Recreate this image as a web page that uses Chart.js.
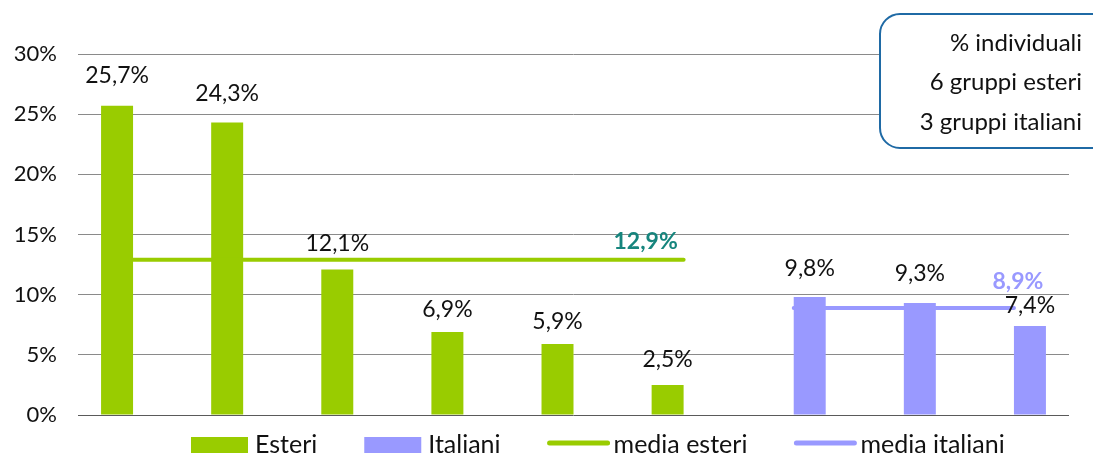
<!DOCTYPE html>
<html>
<head>
<meta charset="utf-8">
<script src="https://cdn.jsdelivr.net/npm/chart.js@4.4.1/dist/chart.umd.min.js"></script>
<style>
  html, body { margin: 0; padding: 0; background: #ffffff; }
  #wrap { width: 1093px; height: 456px; }
</style>
</head>
<body>
<div id="wrap"><canvas id="c" width="1093" height="456"></canvas></div>
<script>
// ---- data ----
const categories = ['G1', 'G2', 'G3', 'G4', 'G5', 'G6', 'I1', 'I2', 'I3'];
const esteri = [25.7, 24.3, 12.1, 6.9, 5.9, 2.5, null, null, null];
const italiani = [null, null, null, null, null, null, 9.8, 9.3, 7.4];
const mediaEsteri = [12.9, 12.9, 12.9, 12.9, 12.9, 12.9, null, null, null];
const mediaItaliani = [null, null, null, null, null, null, 8.9, 8.9, 8.9];
const yTicks = [0, 5, 10, 15, 20, 25, 30];
const seriesNames = ['Esteri', 'Italiani', 'media esteri', 'media italiani'];
const noteLines = ['% individuali', '6 gruppi esteri', '3 gruppi italiani'];

// ---- style ----
const GREEN = '#99cc00';
const PURPLE = '#9999ff';
const FONT = 'Lato, "Open Sans", sans-serif';
// vertical lift of each bar label above its bar top (px)
const barLabelLift = [30, 29, 26, 22, 22, 25, 28, 30, 20];

const fmt = v => v.toFixed(1).replace('.', ',') + '%';

const labelPlugin = {
  id: 'labels',
  afterDatasetsDraw(chart) {
    const ctx = chart.ctx;
    ctx.save();
    ctx.textAlign = 'center';
    ctx.textBaseline = 'middle';
    [0, 1].forEach(di => {
      const meta = chart.getDatasetMeta(di);
      const ds = chart.data.datasets[di];
      meta.data.forEach((el, i) => {
        const v = ds.data[i];
        if (v == null) return;
        ctx.font = '23px ' + FONT;
        ctx.fillStyle = '#111111';
        ctx.fillText(fmt(v), el.x, el.y - barLabelLift[i]);
      });
    });
    const lineLabel = [
      { di: 2, color: '#16857d', dx: -38, dy: -18 },
      { di: 3, color: PURPLE, dx: 4, dy: -26 }
    ];
    lineLabel.forEach(o => {
      const ds = chart.data.datasets[o.di];
      const meta = chart.getDatasetMeta(o.di);
      let last = -1;
      ds.data.forEach((v, i) => { if (v != null) last = i; });
      const el = meta.data[last];
      ctx.font = 'bold 23px ' + FONT;
      ctx.fillStyle = o.color;
      ctx.fillText(fmt(ds.data[last]), el.x + o.dx, el.y + o.dy);
    });
    ctx.restore();
  },
  afterDraw(chart) {
    const ctx = chart.ctx;
    ctx.save();
    const bx = 880, by = 14, bw = 240, bh = 134, r = 20;
    ctx.beginPath();
    ctx.moveTo(bx + r, by);
    ctx.lineTo(bx + bw - r, by);
    ctx.arcTo(bx + bw, by, bx + bw, by + r, r);
    ctx.lineTo(bx + bw, by + bh - r);
    ctx.arcTo(bx + bw, by + bh, bx + bw - r, by + bh, r);
    ctx.lineTo(bx + r, by + bh);
    ctx.arcTo(bx, by + bh, bx, by + bh - r, r);
    ctx.lineTo(bx, by + r);
    ctx.arcTo(bx, by, bx + r, by, r);
    ctx.closePath();
    ctx.fillStyle = '#ffffff';
    ctx.fill();
    ctx.lineWidth = 2;
    ctx.strokeStyle = '#1f6aa5';
    ctx.stroke();
    ctx.font = '24px ' + FONT;
    ctx.fillStyle = '#111111';
    ctx.textAlign = 'right';
    ctx.textBaseline = 'middle';
    noteLines.forEach((t, i) => ctx.fillText(t, 1082, 43 + i * 39.5));

    // legend
    const ds = chart.data.datasets;
    let x = 191;
    const cy = 445;
    ctx.font = '25px ' + FONT;
    ctx.textAlign = 'left';
    ds.forEach((d) => {
      if (d.type === 'line') {
        ctx.strokeStyle = d.borderColor;
        ctx.lineWidth = 5;
        ctx.lineCap = 'round';
        ctx.beginPath();
        ctx.moveTo(x + 2, cy - 2);
        ctx.lineTo(x + 60, cy - 2);
        ctx.stroke();
        x += 66;
      } else {
        ctx.fillStyle = d.backgroundColor;
        ctx.fillRect(x, cy - 8, 57, 16);
        x += 64;
      }
      ctx.fillStyle = '#111111';
      ctx.fillText(d.label, x, cy);
      x += ctx.measureText(d.label).width + 47;
    });
    ctx.restore();
  }
};

new Chart(document.getElementById('c'), {
  data: {
    labels: categories,
    datasets: [
      { type: 'bar', label: seriesNames[0], data: esteri, backgroundColor: GREEN, order: 2 },
      { type: 'bar', label: seriesNames[1], data: italiani, backgroundColor: PURPLE, order: 2 },
      { type: 'line', label: seriesNames[2], data: mediaEsteri, borderColor: GREEN, backgroundColor: GREEN,
        borderWidth: 4, pointRadius: 0, borderCapStyle: 'round', order: 1 },
      { type: 'line', label: seriesNames[3], data: mediaItaliani, borderColor: PURPLE, backgroundColor: PURPLE,
        borderWidth: 4, pointRadius: 0, borderCapStyle: 'round', order: 1 }
    ]
  },
  options: {
    responsive: false,
    animation: false,
    devicePixelRatio: 1,
    layout: { padding: { left: 0, top: 54, right: 24, bottom: 41 } },
    datasets: { bar: { categoryPercentage: 0.581, barPercentage: 1 } },
    plugins: { legend: { display: false }, tooltip: { enabled: false } },
    scales: {
      x: { display: false },
      y: {
        min: yTicks[0], max: yTicks[yTicks.length - 1],
        afterFit: s => { s.width = 78; },
        afterBuildTicks: s => { s.ticks = yTicks.map(v => ({ value: v })); },
        border: { display: false },
        grid: {
          drawTicks: false,
          color: c => c.tick && c.tick.value === 0 ? '#5a5a5a' : '#8a8a8a',
          lineWidth: 1
        },
        ticks: {
          padding: 21,
          color: '#111111',
          font: { family: FONT, size: 22 },
          callback: v => v + '%'
        }
      }
    }
  },
  plugins: [labelPlugin]
});
</script>
</body>
</html>
